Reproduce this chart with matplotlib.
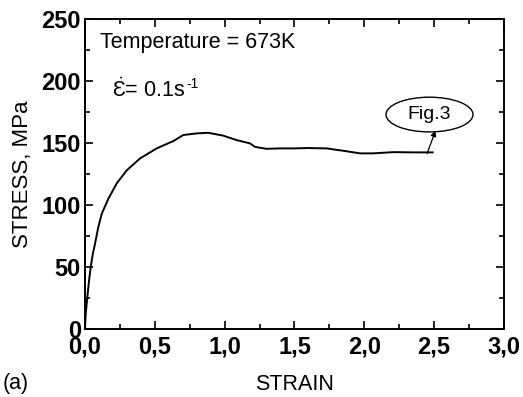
"""Stress-strain curve at 673K, strain rate 0.1 s^-1"""
from matplotlib import pyplot as plt
from matplotlib.patches import Ellipse
from matplotlib.ticker import MultipleLocator, FuncFormatter

strain = [0, 0.005, 0.017, 0.03, 0.041, 0.055, 0.072, 0.095, 0.12, 0.167,
          0.227, 0.299, 0.394, 0.513, 0.632, 0.704, 0.80, 0.883, 0.99, 1.086,
          1.18, 1.217, 1.253, 1.30, 1.396, 1.49, 1.6, 1.73, 1.85, 1.97,
          2.06, 2.21, 2.35, 2.45, 2.49]
stress = [0, 12, 26, 40, 50, 60, 69, 82, 93, 105,
          117.5, 128, 137.6, 145.7, 151.6, 156.5, 157.8, 158.3, 156, 152.4,
          149.8, 147, 146.2, 145.4, 145.7, 145.7, 146, 145.7, 143.8, 141.7,
          141.7, 142.7, 142.5, 142.5, 142.5]

plt.rcParams['font.family'] = ['Liberation Sans', 'DejaVu Sans']
plt.rcParams['mathtext.fontset'] = 'custom'
plt.rcParams['mathtext.rm'] = 'Liberation Sans'

fig = plt.figure(figsize=(5.23, 3.97), dpi=100)
ax = fig.add_axes([0.1625, 0.171, 0.801, 0.781])

ax.plot(strain, stress, color='black', lw=1.4)

ax.set_xlim(0, 3.0)
ax.set_ylim(0, 250)
ax.xaxis.set_major_locator(MultipleLocator(0.5))
ax.xaxis.set_minor_locator(MultipleLocator(0.25))
ax.yaxis.set_major_locator(MultipleLocator(50))
ax.yaxis.set_minor_locator(MultipleLocator(25))
ax.xaxis.set_major_formatter(FuncFormatter(lambda v, p: f"{v:.1f}".replace('.', ',')))

ax.tick_params(which='both', direction='in', top=True, right=True, width=1.2)
ax.tick_params(which='major', length=6, labelsize=17)
ax.tick_params(axis='x', which='major', pad=4.5)
ax.tick_params(axis='y', which='major', pad=3)
ax.tick_params(which='minor', length=3.5)
for lab in ax.get_xticklabels() + ax.get_yticklabels():
    lab.set_fontweight('bold')
for s in ax.spines.values():
    s.set_linewidth(1.4)

ax.set_xlabel('STRAIN', fontsize=15.5, labelpad=11)
ax.set_ylabel('STRESS, MPa', fontsize=16, labelpad=6)

ax.text(0.037, 0.9055, 'Temperature = 673K', fontsize=15.5, transform=ax.transAxes,
        va='baseline', ha='left')
rate = ax.text(0.064, 0.75, r'$\dot{\mathrm{Ɛ}}$= 0.1s', fontsize=15.5,
               transform=ax.transAxes, va='baseline', ha='left')
ax.annotate('-1', xy=(1.0, 1.0), xycoords=rate, fontsize=10,
            ha='left', va='top', xytext=(0.5, 1), textcoords='offset points')

# callout
ax.add_patch(Ellipse((2.467, 173), 0.623, 28, fill=False, lw=1.0, color='black'))
ax.text(2.467, 173, 'Fig.3', fontsize=14, ha='center', va='center')
ax.annotate('', xy=(2.51, 160), xytext=(2.45, 141.5),
            arrowprops=dict(arrowstyle='-|>', color='black', lw=0.9,
                            mutation_scale=8, shrinkA=0, shrinkB=0))

fig.text(0.005, 0.035, '(a)', fontsize=15.5, ha='left', va='center')

fig.savefig('out.png', dpi=100)
